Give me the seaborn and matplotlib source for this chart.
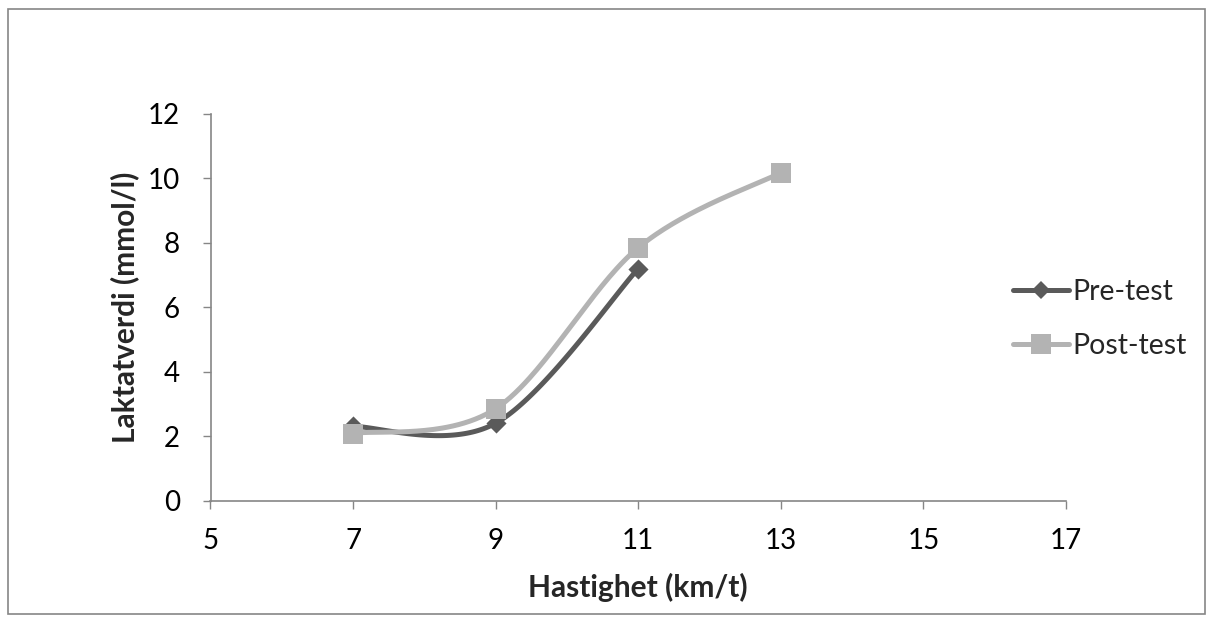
import numpy as np
import pandas as pd
import matplotlib
matplotlib.use("Agg")
import matplotlib.pyplot as plt
from matplotlib.lines import Line2D
from matplotlib.patches import Rectangle
import seaborn as sns

# ---- data ----
pre_x = [7, 9, 11]
pre_y = [2.3, 2.4, 7.2]
post_x = [7, 9, 11, 13]
post_y = [2.08, 2.85, 7.85, 10.18]
series_names = ["Pre-test", "Post-test"]
x_ticks = [5, 7, 9, 11, 13, 15, 17]
y_ticks = [0, 2, 4, 6, 8, 10, 12]

PRE_COLOR = "#5a5a5a"
POST_COLOR = "#b3b3b3"
GRAY = "#868686"

sns.set_theme(style="white")
plt.rcParams["font.family"] = ["Lato", "DejaVu Sans"]

W, H = 1213, 623


def smooth_curve(xs, ys, n=60):
    """Excel-like smoothed line: cubic Bezier segments with Catmull-Rom control points."""
    P = np.column_stack([xs, ys]).astype(float)
    m = len(P)
    out = []
    for i in range(m - 1):
        p0 = P[i - 1] if i > 0 else P[i]
        p1 = P[i]
        p2 = P[i + 1]
        p3 = P[i + 2] if i + 2 < m else P[i + 1]
        c1 = p1 + (p2 - p0) / 6.0
        c2 = p2 - (p3 - p1) / 6.0
        t = np.linspace(0, 1, n)[:, None]
        seg = ((1 - t) ** 3) * p1 + 3 * ((1 - t) ** 2) * t * c1 + 3 * (1 - t) * t ** 2 * c2 + t ** 3 * p2
        if i > 0:
            seg = seg[1:]
        out.append(seg)
    arr = np.vstack(out)
    return pd.DataFrame({"x": arr[:, 0], "y": arr[:, 1]})


fig = plt.figure(figsize=(W / 100, H / 100), dpi=100)
ax_l, ax_r, ax_t, ax_b = 210.5, 1066, 114, 500.5
ax = fig.add_axes([ax_l / W, 1 - ax_b / H, (ax_r - ax_l) / W, (ax_b - ax_t) / H])

# outer chart border
fig.patches.append(Rectangle((8 / W, 9 / H), (1205 - 8) / W, (614 - 9) / H,
                             transform=fig.transFigure, fill=False,
                             edgecolor=GRAY, linewidth=1.2))

pre_s = smooth_curve(pre_x, pre_y)
post_s = smooth_curve(post_x, post_y)

LW = 3.6
sns.lineplot(data=pre_s, x="x", y="y", sort=False, estimator=None, ax=ax,
             color=PRE_COLOR, linewidth=LW, zorder=2)
sns.scatterplot(x=pre_x, y=pre_y, ax=ax, marker="D", s=105, color=PRE_COLOR,
                edgecolor=PRE_COLOR, linewidth=0, zorder=3)
sns.lineplot(data=post_s, x="x", y="y", sort=False, estimator=None, ax=ax,
             color=POST_COLOR, linewidth=LW, zorder=4)
sns.scatterplot(x=post_x, y=post_y, ax=ax, marker="s", s=205, color=POST_COLOR,
                edgecolor=POST_COLOR, linewidth=0, zorder=5)

ax.set_xlim(5, 17)
ax.set_ylim(0, 12)
ax.set_xticks(x_ticks)
ax.set_yticks(y_ticks)
ax.set_xticklabels([str(v) for v in x_ticks])
ax.set_yticklabels([str(v) for v in y_ticks])
ax.tick_params(axis="both", which="major", direction="out", length=6, width=1,
               color=GRAY, labelsize=20, labelcolor="black")
ax.tick_params(axis="y", pad=16)
ax.tick_params(axis="x", pad=14)
ax.tick_params(left=True, bottom=True)
for side in ["top", "right"]:
    ax.spines[side].set_visible(False)
for side in ["left", "bottom"]:
    ax.spines[side].set_color(GRAY)
    ax.spines[side].set_linewidth(1.2)
ax.grid(False)

ax.set_xlabel("Hastighet (km/t)", fontsize=21.5, fontweight="bold")
ax.set_ylabel("Laktatverdi (mmol/l)", fontsize=21.5, fontweight="bold")
ax.xaxis.set_label_coords(0.5, (ax_b - 573) / (ax_b - ax_t))
ax.yaxis.set_label_coords((139 - ax_l) / (ax_r - ax_l), 0.5)

handles = [
    Line2D([0], [0], color=PRE_COLOR, linewidth=LW, marker="D", markersize=9.5,
           markeredgewidth=0),
    Line2D([0], [0], color=POST_COLOR, linewidth=LW, marker="s", markersize=14,
           markeredgewidth=0),
]
fig.legend(handles, series_names, loc="center left",
           bbox_to_anchor=(1013 / W, 1 - 319 / H), frameon=False,
           fontsize=20.5, handlelength=1.95, handletextpad=0.15,
           labelspacing=1.0, borderpad=0, borderaxespad=0)

fig.savefig("out.png", dpi=100, facecolor="white")
